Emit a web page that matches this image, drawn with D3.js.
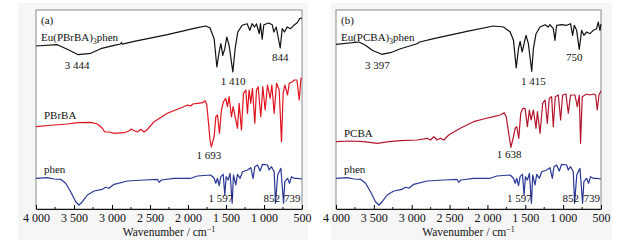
<!DOCTYPE html>
<html>
<head>
<meta charset="utf-8">
<script src="https://cdn.jsdelivr.net/npm/d3@7"></script>
<style>
  body { margin: 0; background: #fff; }
  svg { display: block; }
  text { font-family: "Liberation Serif", "DejaVu Serif", serif; fill: #111; }
</style>
</head>
<body>
<div id="chart"></div>
<script>
// ---- data: [wavenumber, signal] ----
const euPBrBA = [[4000,163],[3719,164.3],[3588,159.7],[3444,154.3],[3280,155.7],[3148,160.3],[2973,163.7],[2890,165],[2876,166.5],[2862,164.8],[2709,167.7],[2271,174.3],[1876,181.3],[1765,183],[1710,181],[1656,170.3],[1620,142],[1590,157],[1568,165.3],[1542,153.7],[1516,160.3],[1490,172],[1459,163.7],[1410,137],[1380,160.3],[1345,177],[1288,183.7],[1222,185.3],[1187,178.7],[1156,185.3],[1125,182],[1099,185],[1063,175.3],[1046,185.3],[1024,169.7],[1002,184.3],[936,186],[892,184.3],[870,177],[839,182],[787,161],[760,180.3],[730,177],[695,182],[651,180.3],[607,183.7],[563,186.3],[532,190.3],[500,191]];

const pbrba = [[4000,82.3],[3763,84],[3588,85],[3456,86.3],[3280,86.7],[3192,85],[3127,80.7],[3096,77],[3039,77],[2973,75.7],[2841,76.3],[2779,78],[2744,80],[2709,78.3],[2665,77],[2621,79.7],[2577,77],[2542,79],[2446,87.3],[2271,95.7],[2139,99.7],[2073,101.7],[2007,104],[1963,103],[1937,105],[1876,105.7],[1809,106.3],[1774,108.3],[1752,104],[1734,89],[1710,69],[1693,62],[1656,72.3],[1634,92.3],[1612,94],[1586,75.7],[1560,99],[1533,107.3],[1503,110.7],[1481,102.3],[1459,112.3],[1428,92.3],[1406,102.3],[1380,92.3],[1349,80.7],[1327,105.7],[1297,79],[1270,115.7],[1239,119],[1218,95.7],[1196,119],[1174,105.7],[1152,120.7],[1121,85.7],[1099,119],[1077,122.3],[1042,92.3],[1016,122.3],[985,99],[954,124],[919,110.7],[897,124],[866,95.7],[835,125.7],[800,119],[770,67.3],[748,115.7],[726,124],[690,114],[668,125.7],[624,127.3],[602,129],[567,129],[536,109],[514,130.7],[500,131]];

const phen = [[4000,30.7],[3851,31.3],[3763,30],[3676,29.7],[3610,25.7],[3544,17.3],[3478,7.3],[3434,4],[3390,7.3],[3324,14],[3236,18],[3127,19.7],[3083,21.7],[3039,20.7],[2973,24.7],[2797,28],[2577,29],[2402,29.7],[2380,26.7],[2350,29],[2183,30.7],[1963,30.7],[1876,33],[1700,34],[1656,30.7],[1634,25.7],[1612,30.7],[1590,23.3],[1568,32.3],[1537,34.7],[1516,14],[1498,32.3],[1472,29],[1446,35.7],[1419,5.7],[1402,34],[1371,24],[1349,34.7],[1314,30.7],[1283,37.3],[1218,39],[1174,41.3],[1143,30.7],[1121,42.3],[1086,44],[1051,38],[1020,44.7],[954,44],[932,39],[902,42.3],[866,37.3],[849,5.7],[820,34],[778,40.7],[743,5.7],[726,27.3],[690,30.7],[664,25.7],[638,32.3],[602,30.7],[558,30.7],[500,30]];

const euPCBA = [[4000,164.7],[3697,167],[3610,163.7],[3522,158.7],[3397,154.7],[3280,156.3],[3148,160.3],[2929,165.3],[2894,167],[2709,170.3],[2271,177.7],[1920,183],[1788,182],[1700,177],[1656,168.7],[1620,141],[1590,160.3],[1568,167.7],[1542,157],[1516,165.3],[1490,173.7],[1459,165.3],[1415,137.7],[1393,160.3],[1358,175.3],[1305,182],[1239,184.3],[1196,182],[1174,184.3],[1130,180.3],[1108,168.7],[1086,183.7],[1020,184.3],[954,183.7],[902,185.3],[875,173.7],[853,183.7],[822,178.7],[787,159.7],[756,178.7],[726,173.7],[690,177],[646,175.3],[602,178.7],[558,180.3],[536,187],[514,178.7],[500,185]];

const pcba = [[4000,67.3],[3807,68],[3632,67.3],[3456,65.7],[3302,67.3],[3148,68.3],[2929,69],[2797,70.7],[2753,69],[2709,72.3],[2665,69],[2621,70.7],[2577,69],[2511,74],[2358,80.7],[2183,87.3],[2051,90],[1920,92.3],[1832,94],[1779,96.3],[1752,92.3],[1722,77.3],[1690,61.7],[1656,72.3],[1634,80.7],[1612,82.3],[1586,70.7],[1560,95.7],[1533,100.7],[1503,100.7],[1472,82.3],[1446,99],[1424,89],[1393,99],[1358,80.7],[1340,97.3],[1305,75.7],[1270,105.7],[1239,109],[1209,85.7],[1183,110.7],[1152,112.3],[1130,82.3],[1104,112.3],[1064,114],[1033,89],[1007,114],[963,115],[932,95.7],[902,114],[844,114],[813,102.3],[787,114],[770,65.7],[748,112.3],[690,115],[646,114],[602,115],[571,114],[549,99],[527,114],[500,118]];

const tickValues = [4000, 3500, 3000, 2500, 2000, 1500, 1000, 500];
const minorTicks = [3750, 3250, 2750, 2250, 1750, 1250, 750];

// peak labels: [text, wavenumber, signal]
const peaksA = [["3 444",3460,140],["1 410",1406,124],["844",787,148],["1 693",1726,50],["1 597",1567,7],["852",899,7],["739",628,7]];
const peaksB = [["3 397",3453,140],["1 415",1392,124],["750",852,148],["1 638",1712,51],["1 597",1577,7],["852",898,7],["739",622,7]];

const width = 627, height = 243;
const svg = d3.select("#chart").append("svg")
  .attr("width", width)
  .attr("height", height);

const fmt = d3.formatLocale({ decimal: ".", thousands: " ", grouping: [3], currency: ["", ""] }).format(",");

function drawPanel(left, right, cardLeft, cardRight, tag, complexName, ligand, ligandData, complexData, ligandColor, ligandLabelY, peaks) {
  const top = 10, bottom = 209;

  // light grey card behind each panel
  svg.append("rect")
    .attr("x", cardLeft).attr("y", 3)
    .attr("width", cardRight - cardLeft).attr("height", 237)
    .attr("fill", "#f6f6f6");
  svg.append("rect")
    .attr("x", left).attr("y", top)
    .attr("width", right - left).attr("height", bottom - top)
    .attr("fill", "#fff")
    .attr("stroke", "#8a8a8a")
    .attr("stroke-width", 1);

  const x = d3.scaleLinear().domain([4000, 500]).range([left, right]);
  const y = d3.scaleLinear().domain([0, 199]).range([bottom, top]);

  const line = d3.line().x(d => x(d[0])).y(d => y(d[1]));

  const g = svg.append("g");
  [[complexData, "#111"], [ligandData, ligandColor], [phen, "#2a3794"]].forEach(([data, color]) => {
    g.append("path")
      .datum(data)
      .attr("fill", "none")
      .attr("stroke", color)
      .attr("stroke-width", 1.2)
      .attr("stroke-linejoin", "round")
      .attr("d", line);
  });

  // bottom axis
  const ax = svg.append("g")
    .attr("transform", `translate(0,${bottom})`)
    .call(d3.axisBottom(x).tickValues(tickValues).tickFormat(fmt).tickSizeInner(-4).tickSizeOuter(0).tickPadding(4));
  ax.select(".domain").attr("stroke", "#111");
  ax.selectAll("text").attr("font-size", 12).attr("font-family", "Liberation Serif").attr("fill", "#111");
  ax.selectAll(".minor")
    .data(minorTicks)
    .enter()
    .append("line")
    .attr("class", "minor")
    .attr("x1", d => x(d)).attr("x2", d => x(d))
    .attr("y1", 0).attr("y2", -2)
    .attr("stroke", "#111");

  svg.append("text")
    .attr("x", (left + right) / 2)
    .attr("y", 236)
    .attr("text-anchor", "middle")
    .attr("font-size", 11.5)
    .text("Wavenumber / cm")
    .append("tspan")
    .attr("dy", -4)
    .attr("font-size", 8)
    .text("\u22121");

  // panel tag and curve names
  svg.append("text").attr("x", x(3934)).attr("y", y(185)).attr("font-size", 11).text(tag);
  const nm = svg.append("text").attr("x", x(3934)).attr("y", y(168)).attr("font-size", 11);
  nm.append("tspan").text(complexName);
  nm.append("tspan").attr("font-size", 7.5).attr("dy", 3).text("3");
  nm.append("tspan").attr("dy", -3).text("phen");
  svg.append("text").attr("x", x(3895)).attr("y", y(ligandLabelY)).attr("font-size", 11).text(ligand);
  svg.append("text").attr("x", x(3895)).attr("y", y(36)).attr("font-size", 11).text("phen");

  svg.selectAll(null)
    .data(peaks)
    .enter()
    .append("text")
    .attr("x", d => x(d[1]))
    .attr("y", d => y(d[2]))
    .attr("text-anchor", "middle")
    .attr("font-size", 11)
    .text(d => d[0]);
}

drawPanel(36, 302, 18, 308, "(a)", "Eu(PBrBA)", "PBrBA", pbrba, euPBrBA, "#e0141f", 90, peaksA);
drawPanel(336, 601, 331, 612, "(b)", "Eu(PCBA)", "PCBA", pcba, euPCBA, "#b3162c", 72, peaksB);
</script>
</body>
</html>
